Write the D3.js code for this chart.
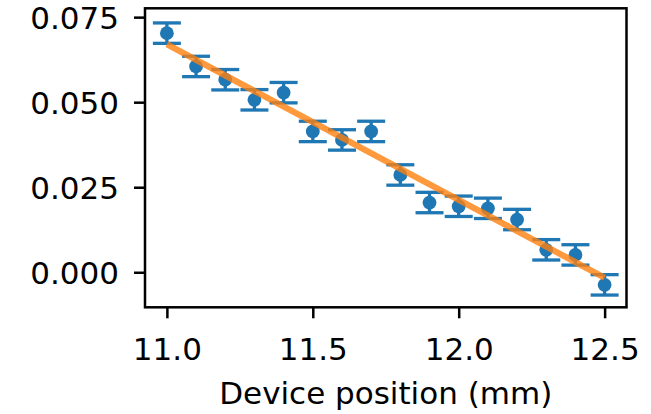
<!DOCTYPE html>
<html>
<head>
<meta charset="utf-8">
<script src="https://cdn.jsdelivr.net/npm/d3@7/dist/d3.min.js"></script>
<style>
  html, body { margin: 0; padding: 0; background: #fff; }
  svg { display: block; }
  text { font-family: "DejaVu Sans", sans-serif; fill: #000; }
</style>
</head>
<body>
<script>
// Measured signal vs. device position, with a linear fit
const positions = [11.0, 11.1, 11.2, 11.3, 11.4, 11.5, 11.6, 11.7, 11.8, 11.9, 12.0, 12.1, 12.2, 12.3, 12.4, 12.5];
const values    = [0.0703, 0.0605, 0.0566, 0.0507, 0.0528, 0.0414, 0.0389, 0.0414, 0.0286, 0.0205, 0.0194, 0.0188, 0.0155, 0.0066, 0.0051, -0.0037];
const errors    = [0.003, 0.003, 0.003, 0.003, 0.003, 0.003, 0.003, 0.003, 0.003, 0.003, 0.003, 0.003, 0.003, 0.003, 0.003, 0.003];
const fitX      = [11.0, 12.5];
const fitY      = [0.0670, -0.0016];
const xTicks    = [11.0, 11.5, 12.0, 12.5];
const yTicks    = [0.000, 0.025, 0.050, 0.075];
const xLabel    = "Device position (mm)";

const W = 651, H = 414;
const plot = { left: 145, right: 626.5, top: 8.3, bottom: 307.3 };

const svg = d3.select("body").append("svg")
  .attr("width", W).attr("height", H);

const x = d3.scaleLinear().domain([10.925, 12.575]).range([plot.left, plot.right]);
const y = d3.scaleLinear().domain([-0.0103, 0.0776]).range([plot.bottom, plot.top]);

const blue = "#1f77b4", orange = "#ff7f0e";
const capHalf = 14;

const pts = positions.map((p, i) => ({ x: p, y: values[i], e: errors[i] }));

// error bars
const eb = svg.append("g");
eb.selectAll("line.stem").data(pts).join("line")
  .attr("x1", d => x(d.x)).attr("x2", d => x(d.x))
  .attr("y1", d => y(d.y - d.e)).attr("y2", d => y(d.y + d.e))
  .attr("stroke", blue).attr("stroke-width", 3.3);
eb.selectAll("line.capTop").data(pts).join("line")
  .attr("x1", d => x(d.x) - capHalf).attr("x2", d => x(d.x) + capHalf)
  .attr("y1", d => y(d.y + d.e)).attr("y2", d => y(d.y + d.e))
  .attr("stroke", blue).attr("stroke-width", 3.3);
eb.selectAll("line.capBot").data(pts).join("line")
  .attr("x1", d => x(d.x) - capHalf).attr("x2", d => x(d.x) + capHalf)
  .attr("y1", d => y(d.y - d.e)).attr("y2", d => y(d.y - d.e))
  .attr("stroke", blue).attr("stroke-width", 3.3);
eb.selectAll("circle").data(pts).join("circle")
  .attr("cx", d => x(d.x)).attr("cy", d => y(d.y)).attr("r", 6.9)
  .attr("fill", blue);

// linear fit
const fit = fitX.map((v, i) => [v, fitY[i]]);
svg.append("path")
  .datum(fit)
  .attr("d", d3.line().x(d => x(d[0])).y(d => y(d[1])))
  .attr("fill", "none").attr("stroke", orange).attr("stroke-width", 6.2)
  .attr("stroke-opacity", 0.8);

// axes
const fontSize = 31;
const xAxis = d3.axisBottom(x).tickValues(xTicks).tickFormat(d3.format(".1f"))
  .tickSize(11).tickPadding(11);
const gx = svg.append("g").attr("transform", `translate(0,${plot.bottom})`).call(xAxis);
const yAxis = d3.axisLeft(y).tickValues(yTicks).tickFormat(d3.format(".3f"))
  .tickSize(11).tickPadding(15);
const gy = svg.append("g").attr("transform", `translate(${plot.left},0)`).call(yAxis);

[gx, gy].forEach(g => {
  g.select(".domain").remove();
  g.selectAll(".tick line").attr("stroke", "#000").attr("stroke-width", 2.5);
  g.selectAll(".tick text").attr("font-size", fontSize)
    .attr("font-family", "DejaVu Sans, sans-serif").attr("fill", "#000");
});
gx.selectAll(".tick text").attr("dy", null).attr("y", 52.5);
gy.selectAll(".tick text").attr("dy", "0.36em");

// frame
svg.append("rect")
  .attr("x", plot.left).attr("y", plot.top)
  .attr("width", plot.right - plot.left).attr("height", plot.bottom - plot.top)
  .attr("fill", "none").attr("stroke", "#000").attr("stroke-width", 2.5);

svg.append("text")
  .attr("x", (plot.left + plot.right) / 2).attr("y", 404)
  .attr("text-anchor", "middle").attr("font-size", fontSize)
  .text(xLabel);
</script>
</body>
</html>
